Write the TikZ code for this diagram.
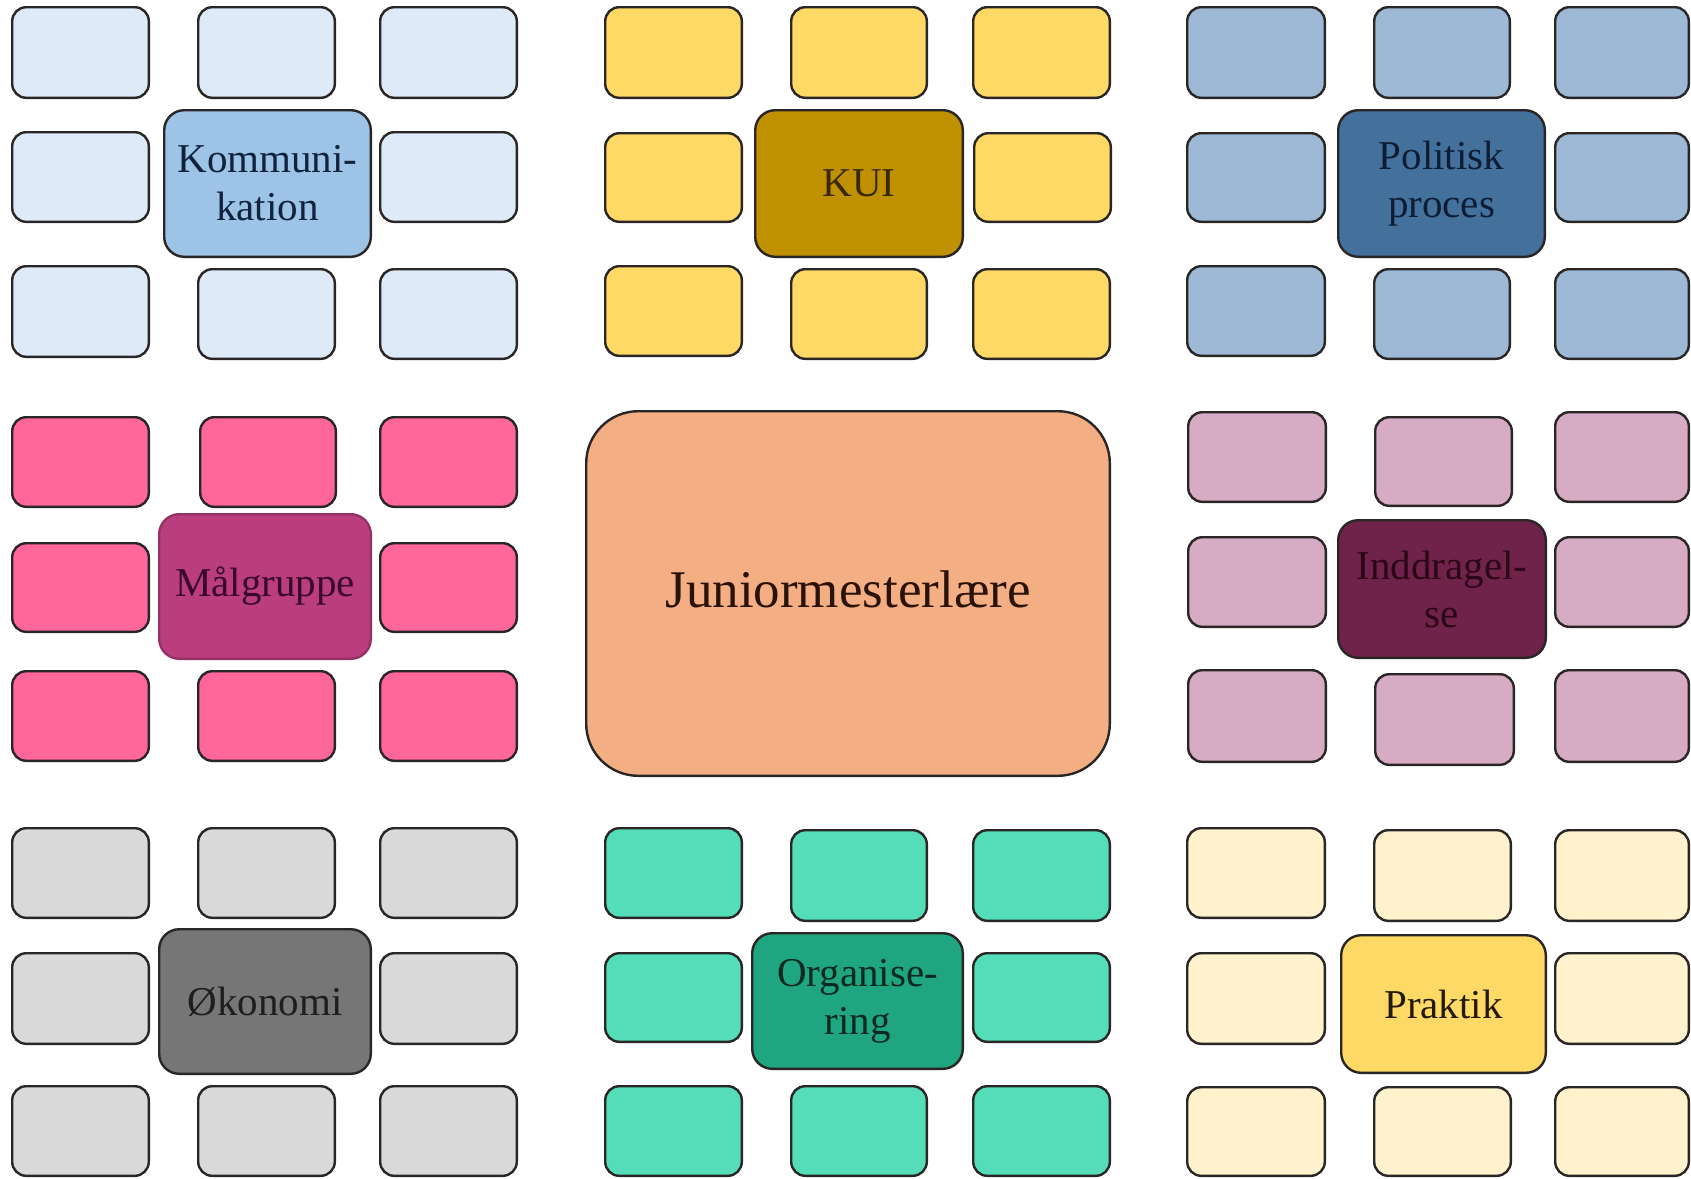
\documentclass[tikz,border=0pt]{standalone}
\usepackage{fontspec}
\setmainfont{Liberation Serif}
\definecolor{kA}{HTML}{DEEAF7}\definecolor{kB}{HTML}{9DC3E6}\definecolor{kT}{HTML}{10223C}
\definecolor{uA}{HTML}{FFD966}\definecolor{uB}{HTML}{BF9000}\definecolor{uT}{HTML}{3A2800}
\definecolor{pA}{HTML}{9DB9D6}\definecolor{pB}{HTML}{44719C}\definecolor{pT}{HTML}{0E1D36}
\definecolor{mA}{HTML}{FF6699}\definecolor{mB}{HTML}{BA3E7E}\definecolor{mT}{HTML}{3A0828}
\definecolor{jA}{HTML}{F4AE83}\definecolor{jT}{HTML}{2A1206}
\definecolor{iA}{HTML}{D6ABC3}\definecolor{iB}{HTML}{70234A}\definecolor{iT}{HTML}{2A0616}
\definecolor{oA}{HTML}{D9D9D9}\definecolor{oB}{HTML}{767676}\definecolor{oT}{HTML}{1E1E1E}
\definecolor{gA}{HTML}{55DDBA}\definecolor{gB}{HTML}{1FA57F}\definecolor{gT}{HTML}{0A2A1E}
\definecolor{rA}{HTML}{FFF2CC}\definecolor{rB}{HTML}{FFD966}\definecolor{rT}{HTML}{241A00}
\definecolor{edge}{HTML}{2A2626}
\newcommand\mybx[7]{\node[#6, minimum width={(#4-#2)*0.5pt-1.2pt}, minimum height={(#5-#3)*0.5pt-1.2pt}] (#1) at ({(#2+#4)/2},{(#3+#5)/2}) {#7};}
\tikzset{
  box/.style={draw=edge, line width=1.2pt, rounded corners=7pt, inner sep=0pt, outer sep=0pt},
  hub/.style={box, rounded corners=10pt, align=center, font=\fontsize{20.5}{24}\selectfont},
  big/.style={box, rounded corners=26pt, font=\fontsize{26.5}{30}\selectfont, fill=jA, text=jT},
  kS/.style={box, fill=kA}, kH/.style={hub, fill=kB, text=kT},
  uS/.style={box, fill=uA}, uH/.style={hub, fill=uB, text=uT},
  pS/.style={box, fill=pA}, pH/.style={hub, fill=pB, text=pT},
  mS/.style={box, fill=mA}, mH/.style={hub, fill=mB, text=mT, draw=mB!80!black},
  iS/.style={box, fill=iA}, iH/.style={hub, fill=iB, text=iT},
  oS/.style={box, fill=oA}, oH/.style={hub, fill=oB, text=oT},
  gS/.style={box, fill=gA}, gH/.style={hub, fill=gB, text=gT},
  rS/.style={box, fill=rA}, rH/.style={hub, fill=rB, text=rT},
}
\begin{document}
\begin{tikzpicture}[x=0.5pt, y=-0.5pt]
\useasboundingbox (0,0) rectangle (1691,1178);
\clip (0,0) rectangle (1691,1178);
% Kommunikation
\mybx{k1}{11}{6}{150}{99}{kS}{}
\mybx{k2}{197}{6}{336}{99}{kS}{}
\mybx{k3}{379}{6}{518}{99}{kS}{}
\mybx{k4}{11}{131}{150}{223}{kS}{}
\mybx{k5}{379}{131}{518}{223}{kS}{}
\mybx{k6}{11}{265}{150}{358}{kS}{}
\mybx{k7}{197}{268}{336}{360}{kS}{}
\mybx{k8}{379}{268}{518}{360}{kS}{}
\mybx{kh}{163}{109}{372}{258}{kH}{Kommuni-\\kation}
% KUI
\mybx{u1}{604}{6}{743}{99}{uS}{}
\mybx{u2}{790}{6}{928}{99}{uS}{}
\mybx{u3}{972}{6}{1111}{99}{uS}{}
\mybx{u4}{604}{132}{743}{223}{uS}{}
\mybx{u5}{973}{132}{1112}{223}{uS}{}
\mybx{u6}{604}{265}{743}{357}{uS}{}
\mybx{u7}{790}{268}{928}{360}{uS}{}
\mybx{u8}{972}{268}{1111}{360}{uS}{}
\mybx{uh}{754}{109}{964}{258}{uH}{KUI}
% Politisk proces
\mybx{p1}{1186}{6}{1326}{99}{pS}{}
\mybx{p2}{1373}{6}{1511}{99}{pS}{}
\mybx{p3}{1554}{6}{1690}{99}{pS}{}
\mybx{p4}{1186}{132}{1326}{223}{pS}{}
\mybx{p5}{1554}{132}{1690}{223}{pS}{}
\mybx{p6}{1186}{265}{1326}{357}{pS}{}
\mybx{p7}{1373}{268}{1511}{360}{pS}{}
\mybx{p8}{1554}{268}{1690}{360}{pS}{}
\mybx{ph}{1337}{109}{1546}{258}{pH}{Politisk\\proces}
% Målgruppe
\mybx{m1}{11}{416}{150}{508}{mS}{}
\mybx{m2}{199}{416}{337}{508}{mS}{}
\mybx{m3}{379}{416}{518}{508}{mS}{}
\mybx{m4}{11}{542}{150}{633}{mS}{}
\mybx{m5}{379}{542}{518}{633}{mS}{}
\mybx{m6}{11}{670}{150}{762}{mS}{}
\mybx{m7}{197}{670}{336}{762}{mS}{}
\mybx{m8}{379}{670}{518}{762}{mS}{}
\mybx{mh}{158}{513}{372}{660}{mH}{Målgruppe}
% Juniormesterlære
\mybx{jm}{585}{410}{1111}{777}{big}{\raisebox{4pt}{Juniormesterlære}}
% Inddragelse
\mybx{i1}{1187}{411}{1327}{503}{iS}{}
\mybx{i2}{1374}{416}{1513}{507}{iS}{}
\mybx{i3}{1554}{411}{1690}{503}{iS}{}
\mybx{i4}{1187}{536}{1327}{628}{iS}{}
\mybx{i5}{1554}{536}{1690}{628}{iS}{}
\mybx{i6}{1187}{669}{1327}{763}{iS}{}
\mybx{i7}{1374}{673}{1515}{766}{iS}{}
\mybx{i8}{1554}{669}{1690}{763}{iS}{}
\mybx{ih}{1337}{519}{1547}{659}{iH}{Inddragel-\\se}
% Økonomi
\mybx{o1}{11}{827}{150}{919}{oS}{}
\mybx{o2}{197}{827}{336}{919}{oS}{}
\mybx{o3}{379}{827}{518}{919}{oS}{}
\mybx{o4}{11}{952}{150}{1045}{oS}{}
\mybx{o5}{379}{952}{518}{1045}{oS}{}
\mybx{o6}{11}{1085}{150}{1177}{oS}{}
\mybx{o7}{197}{1085}{336}{1177}{oS}{}
\mybx{o8}{379}{1085}{518}{1177}{oS}{}
\mybx{oh}{158}{928}{372}{1075}{oH}{Økonomi}
% Organisering
\mybx{g1}{604}{827}{743}{919}{gS}{}
\mybx{g2}{790}{829}{928}{922}{gS}{}
\mybx{g3}{972}{829}{1111}{922}{gS}{}
\mybx{g4}{604}{952}{743}{1043}{gS}{}
\mybx{g5}{972}{952}{1111}{1043}{gS}{}
\mybx{g6}{604}{1085}{743}{1177}{gS}{}
\mybx{g7}{790}{1085}{928}{1177}{gS}{}
\mybx{g8}{972}{1085}{1111}{1177}{gS}{}
\mybx{gh}{751}{932}{964}{1070}{gH}{Organise-\\ring}
% Praktik
\mybx{r1}{1186}{827}{1326}{919}{rS}{}
\mybx{r2}{1373}{829}{1512}{922}{rS}{}
\mybx{r3}{1554}{829}{1690}{922}{rS}{}
\mybx{r4}{1186}{952}{1326}{1045}{rS}{}
\mybx{r5}{1554}{952}{1690}{1045}{rS}{}
\mybx{r6}{1186}{1086}{1326}{1177}{rS}{}
\mybx{r7}{1373}{1086}{1512}{1177}{rS}{}
\mybx{r8}{1554}{1086}{1690}{1177}{rS}{}
\mybx{rh}{1340}{934}{1547}{1074}{rH}{Praktik}
\end{tikzpicture}
\end{document}
